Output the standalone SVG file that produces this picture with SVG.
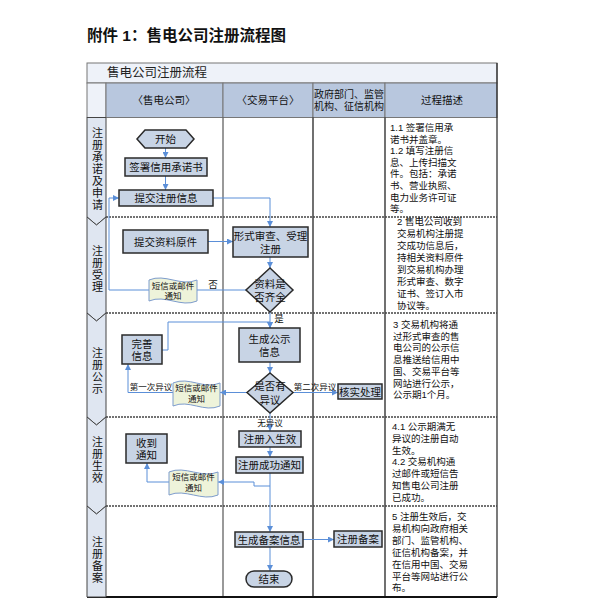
<svg xmlns="http://www.w3.org/2000/svg" width="591" height="602" viewBox="0 0 591 602">
<style>
text{font-family:"Liberation Sans","Noto Sans CJK SC",sans-serif;fill:#111;}
.t{font-size:10.5px;text-anchor:middle;dominant-baseline:central;}
.s{font-size:8.5px;text-anchor:middle;dominant-baseline:central;}
.d{font-size:9.5px;dominant-baseline:central;}
.lane{font-size:11px;text-anchor:middle;writing-mode:vertical-rl;letter-spacing:1px;}
.box{fill:#c8d4e5;stroke:#2a2a2a;stroke-width:1.5;}
.doc{fill:#eef3da;stroke:#7d9ccc;stroke-width:1;}
.chev{fill:#dfe6f1;stroke:#444;stroke-width:1;}
.c{fill:none;stroke:#5b8fd8;stroke-width:1;}
.sep{stroke:#444;stroke-width:1.5;stroke-dasharray:2,1;}
</style>
<defs>
<marker id="ah" viewBox="0 0 6 6" refX="6" refY="3" markerWidth="6" markerHeight="6" markerUnits="userSpaceOnUse" orient="auto">
<path d="M0,0 L6,3 L0,6 Z" fill="#5b8fd8"/>
</marker>
</defs>
<rect width="591" height="602" fill="#fff"/>
<text x="87" y="35" style="font-size:15.5px;font-weight:bold;dominant-baseline:central;">附件 1：售电公司注册流程图</text>
<g id="frame">
<rect x="87" y="63" width="410" height="20" fill="#eef2f9" stroke="#777"/>
<text x="107" y="73" style="font-size:12.5px;dominant-baseline:central;fill:#222;">售电公司注册流程</text>
<rect x="87" y="83" width="19" height="34.5" fill="#eef2f9" stroke="#777"/>
<rect x="106" y="83" width="117" height="34.5" fill="#b8c7de" stroke="#777"/>
<rect x="223" y="83" width="90" height="34.5" fill="#b8c7de" stroke="#777"/>
<rect x="313" y="83" width="72" height="34.5" fill="#b8c7de" stroke="#777"/>
<rect x="385" y="83" width="112" height="34.5" fill="#b8c7de" stroke="#777"/>
<text class="t" x="164" y="100">〈售电公司〉</text>
<text class="t" x="268" y="100">〈交易平台〉</text>
<text class="t" x="349" y="93" style="font-size:10px"><tspan x="349" y="93.5">政府部门、监管</tspan><tspan x="349" y="105.5">机构、征信机构</tspan></text>
<text class="t" x="442" y="100">过程描述</text>
<line x1="223" y1="117.5" x2="223" y2="597" stroke="#555" stroke-width="1.2"/>
<line x1="313" y1="117.5" x2="313" y2="597" stroke="#111" stroke-width="1.2"/>
<line x1="385" y1="117.5" x2="385" y2="597" stroke="#111" stroke-width="1.2"/>
<line x1="497" y1="63" x2="497" y2="597" stroke="#222" stroke-width="1.2"/>
<line x1="87" y1="597" x2="497" y2="597" stroke="#111" stroke-width="2"/>
<line class="sep" x1="106" y1="217" x2="497" y2="217"/>
<line class="sep" x1="106" y1="313" x2="497" y2="313"/>
<line class="sep" x1="106" y1="417" x2="497" y2="417"/>
<line class="sep" x1="106" y1="506" x2="497" y2="506"/>
</g>
<g id="lanes">
<polygon class="chev" points="87,117.5 106,117.5 106,217 96.5,225 87,217"/>
<polygon class="chev" points="87,217 96.5,225 106,217 106,313 96.5,321 87,313"/>
<polygon class="chev" points="87,313 96.5,321 106,313 106,417 96.5,425 87,417"/>
<polygon class="chev" points="87,417 96.5,425 106,417 106,506 96.5,514 87,506"/>
<polygon class="chev" points="87,506 96.5,514 106,506 106,597 87,597"/>
<text class="lane" x="96.5" y="169.5">注册承诺及申请</text>
<text class="lane" x="96.5" y="269">注册受理</text>
<text class="lane" x="96.5" y="371">注册公示</text>
<text class="lane" x="96.5" y="460.5">注册生效</text>
<text class="lane" x="96.5" y="560.5">注册备案</text>
</g>
<g id="connectors">
<path class="c" d="M165.5,148 V158" marker-end="url(#ah)"/>
<path class="c" d="M165.5,176 V190" marker-end="url(#ah)"/>
<path class="c" d="M213,198 H270 V227" marker-end="url(#ah)"/>
<path class="c" d="M208,241.5 H233" marker-end="url(#ah)"/>
<path class="c" d="M270,257 V268" marker-end="url(#ah)"/>
<path class="c" d="M246,290 H109 V198 H119" marker-end="url(#ah)"/>
<path class="c" d="M270,312 V328" marker-end="url(#ah)"/>
<path class="c" d="M162,350 H168 V322 H270 V328" marker-end="url(#ah)"/>
<path class="c" d="M270,362 V373" marker-end="url(#ah)"/>
<path class="c" d="M247,392.5 H220" marker-end="url(#ah)"/>
<path class="c" d="M173,392.5 H128 V364" marker-end="url(#ah)"/>
<path class="c" d="M293,392.5 H338" marker-end="url(#ah)"/>
<path class="c" d="M270,413 V431" marker-end="url(#ah)"/>
<path class="c" d="M270,447 V457" marker-end="url(#ah)"/>
<path class="c" d="M270,473 V532" marker-end="url(#ah)"/>
<path class="c" d="M270,486 H254 V482 H218" marker-end="url(#ah)"/>
<path class="c" d="M169,482 H147 V463" marker-end="url(#ah)"/>
<path class="c" d="M303,539.5 H334" marker-end="url(#ah)"/>
<path class="c" d="M270,547 V571" marker-end="url(#ah)"/>
<text class="s" x="213" y="284" style="font-size:9.5px">否</text>
<text class="s" x="279" y="318" style="font-size:9.5px">是</text>
<text class="s" x="151" y="387">第一次异议</text>
<text class="s" x="315" y="387">第二次异议</text>
<text class="s" x="270" y="422.5">无异议</text>
</g>
<g id="n-start"><polygon class="box" points="137,139 145,130 186,130 194,139 186,148 145,148"/><text class="t" x="165.5" y="139">开始</text></g>
<g id="n-sign"><rect class="box" x="125" y="158" width="82" height="18"/><text class="t" x="166" y="167">签署信用承诺书</text></g>
<g id="n-submit"><rect class="box" x="119" y="190" width="94" height="16"/><text class="t" x="166" y="198">提交注册信息</text></g>
<g id="n-orig"><rect class="box" x="123" y="230" width="85" height="23"/><text class="t" x="165.5" y="241.5">提交资料原件</text></g>
<g id="n-review"><rect class="box" x="233" y="227" width="75" height="30"/><text class="t"><tspan x="270.5" y="235.5">形式审查、受理</tspan><tspan x="270.5" y="248.5">注册</tspan></text></g>
<g id="n-complete"><polygon class="box" points="270,268 293,290 270,312 246,290"/><text class="t"><tspan x="270" y="284">资料是</tspan><tspan x="270" y="297">否齐全</tspan></text></g>
<g id="n-doc1"><path class="doc" d="M149,280 C165,273 181,287 197,280 L197,301 C181,308 165,294 149,301 Z"/><text class="s"><tspan x="173" y="286">短信或邮件</tspan><tspan x="173" y="296">通知</tspan></text></g>
<g id="n-improve"><rect class="box" x="122" y="335" width="40" height="29"/><text class="t"><tspan x="142" y="343.5">完善</tspan><tspan x="142" y="356">信息</tspan></text></g>
<g id="n-publish"><rect class="box" x="239" y="328" width="61" height="34"/><text class="t"><tspan x="269.5" y="338.5">生成公示</tspan><tspan x="269.5" y="352">信息</tspan></text></g>
<g id="n-objection"><polygon class="box" points="270,373 293,392.5 270,413 247,392.5"/><text class="t"><tspan x="270" y="386">是否有</tspan><tspan x="270" y="399.5">异议</tspan></text></g>
<g id="n-doc2"><path class="doc" d="M173,383 C189,376 204,390 220,383 L220,406 C204,413 189,399 173,406 Z"/><text class="s"><tspan x="196.5" y="388">短信或邮件</tspan><tspan x="196.5" y="399">通知</tspan></text></g>
<g id="n-verify"><rect class="box" x="338" y="384" width="44" height="15"/><text class="t" x="360" y="391.5">核实处理</text></g>
<g id="n-effect"><rect class="box" x="239" y="431" width="62" height="16"/><text class="t" x="270" y="439">注册入生效</text></g>
<g id="n-success"><rect class="box" x="236" y="457" width="67" height="16"/><text class="t" x="269.5" y="465">注册成功通知</text></g>
<g id="n-doc3"><path class="doc" d="M169,472 C185,465 202,479 218,472 L218,495 C202,502 185,488 169,495 Z"/><text class="s"><tspan x="193.5" y="477">短信或邮件</tspan><tspan x="193.5" y="488">通知</tspan></text></g>
<g id="n-receive"><rect class="box" x="126" y="434" width="41" height="29"/><text class="t"><tspan x="146.5" y="442.5">收到</tspan><tspan x="146.5" y="455">通知</tspan></text></g>
<g id="n-record"><rect class="box" x="235" y="532" width="68" height="15"/><text class="t" x="269" y="539.5">生成备案信息</text></g>
<g id="n-filing"><rect class="box" x="334" y="531" width="48" height="16"/><text class="t" x="358" y="539">注册备案</text></g>
<g id="n-end"><rect class="box" x="246" y="571" width="46" height="16" rx="8"/><text class="t" x="269" y="579">结束</text></g>
<g id="desc">
<text class="d"><tspan x="390" y="127">1.1 签署信用承</tspan><tspan x="390" y="138.6">诺书并盖章。</tspan><tspan x="390" y="150.2">1.2 填写注册信</tspan><tspan x="390" y="161.8">息、上传扫描文</tspan><tspan x="390" y="173.4">件。包括：承诺</tspan><tspan x="390" y="185">书、营业执照、</tspan><tspan x="390" y="196.6">电力业务许可证</tspan><tspan x="390" y="208.2">等。</tspan></text>
<text class="d"><tspan x="397" y="221">2 售电公司收到</tspan><tspan x="397" y="233">交易机构注册提</tspan><tspan x="397" y="245">交成功信息后，</tspan><tspan x="397" y="257">持相关资料原件</tspan><tspan x="397" y="269">到交易机构办理</tspan><tspan x="397" y="281">形式审查、数字</tspan><tspan x="397" y="293">证书、签订入市</tspan><tspan x="397" y="305">协议等。</tspan></text>
<text class="d"><tspan x="393" y="324">3 交易机构将通</tspan><tspan x="393" y="335.7">过形式审查的售</tspan><tspan x="393" y="347.4">电公司的公示信</tspan><tspan x="393" y="359.1">息推送给信用中</tspan><tspan x="393" y="370.8">国、交易平台等</tspan><tspan x="393" y="382.5">网站进行公示，</tspan><tspan x="393" y="394.2">公示期1个月。</tspan></text>
<text class="d"><tspan x="392" y="426">4.1 公示期满无</tspan><tspan x="392" y="437.8">异议的注册自动</tspan><tspan x="392" y="449.6">生效。</tspan><tspan x="392" y="461.4">4.2 交易机构通</tspan><tspan x="392" y="473.2">过邮件或短信告</tspan><tspan x="392" y="485">知售电公司注册</tspan><tspan x="392" y="496.8">已成功。</tspan></text>
<text class="d"><tspan x="392" y="516">5 注册生效后，交</tspan><tspan x="392" y="527.9">易机构向政府相关</tspan><tspan x="392" y="539.8">部门、监管机构、</tspan><tspan x="392" y="551.7">征信机构备案，并</tspan><tspan x="392" y="563.6">在信用中国、交易</tspan><tspan x="392" y="575.5">平台等网站进行公</tspan><tspan x="392" y="587.4">布。</tspan></text>
</g>
</svg>
